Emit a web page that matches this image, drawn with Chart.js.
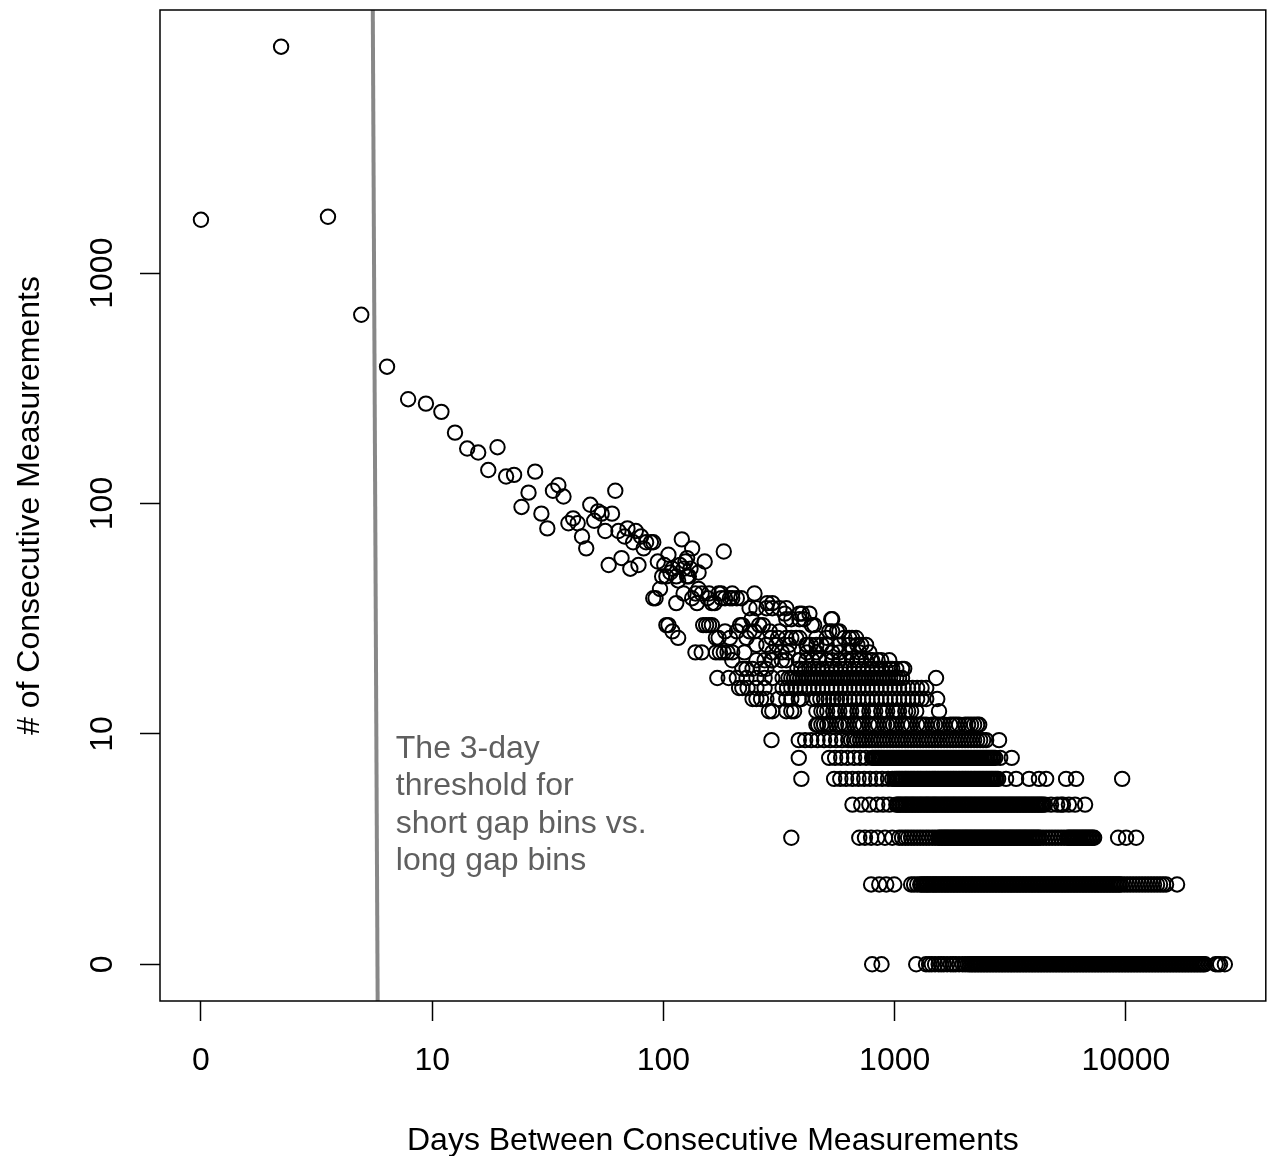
<!DOCTYPE html>
<html>
<head>
<meta charset="utf-8">
<script src="https://cdn.jsdelivr.net/npm/chart.js@4"></script>
<style>
  html, body { margin: 0; padding: 0; background: #fff; }
  #wrap { width: 1275px; height: 1156px; position: relative; }
</style>
</head>
<body>
<div id="wrap"><canvas id="gapChart"></canvas></div>
<script>
// Days between consecutive measurements, grouped by how many pairs had that gap.
// Low counts come out as horizontal rows, one array per count (dense stretches are nearly every day).
const count1Days = [332, 360, 486, 529, 543, 556, 572, 590, 603, 617, 635, 655, 669, 684, 704, 726, 742, 759,
  771, 781, 791, 802, 812, 823, 834, 845, 856, 867, 878, 890, 901, 913, 925, 937, 949, 962, 974, 987, 1000, 1013, 1026, 1039, 1053, 1067, 1081, 1095, 1109, 1123, 1138, 1153, 1168, 1183, 1198, 1214, 1230, 1246, 1262, 1279, 1296, 1313, 1330, 1347, 1365, 1383, 1401, 1419, 1437, 1456, 1475, 1495, 1514, 1534, 1554, 1574, 1595, 1616, 1637, 1658, 1680, 1702, 1724, 1746, 1769, 1792, 1815, 1839, 1863, 1888, 1912, 1937, 1962, 1988, 2014, 2041, 2067, 2094, 2121, 2149, 2177, 2206, 2235, 2264, 2293, 2323, 2353, 2384, 2415, 2447, 2479, 2511, 2544, 2577, 2611, 2645, 2679, 2714, 2750, 2786, 2822, 2859, 2896, 2934, 2972, 3011, 3050, 3090, 3130, 3171, 3213, 3255, 3297, 3340, 3384, 3428, 3473, 3518, 3564, 3610, 3657, 3705, 3753, 3802, 3852, 3902, 3953, 4005, 4057, 4110, 4164, 4218, 4273, 4329, 4385, 4442, 4500, 4559, 4619, 4679, 4740, 4802, 4865, 4928, 4992, 5057, 5123, 5190, 5258, 5327, 5397, 5467, 5538, 5610, 5683, 5757, 5832, 5908,
  6480, 6610, 6731, 7013];
const count2Days = [329, 353, 375, 402, 465, 477, 490, 503,
  509, 516, 523, 530, 536, 543, 550, 558, 565, 572, 579, 587, 595, 603, 611, 619, 627, 635, 643, 652, 660, 669, 677, 686, 695, 704, 713, 723, 732, 742, 751, 761, 771, 781, 791, 802, 812, 823, 834, 845, 856, 867, 878, 890, 901, 913, 925, 937, 949, 962, 974, 987, 1000, 1013, 1026, 1039, 1053, 1067, 1081, 1095, 1109, 1123, 1138, 1153, 1168, 1183, 1198, 1214, 1230, 1246, 1262, 1279, 1296, 1313, 1330, 1347, 1365, 1383, 1401, 1419, 1437, 1456, 1475, 1495, 1514, 1534, 1554, 1574, 1595, 1616, 1637, 1658, 1680, 1702, 1724, 1746, 1769, 1792, 1815, 1839, 1863, 1888, 1912, 1937, 1962, 1988, 2014, 2041, 2067, 2094, 2121, 2149, 2177, 2206, 2235, 2264, 2293, 2323, 2353, 2384, 2415, 2447, 2479, 2511, 2544, 2577, 2611, 2645, 2679, 2714, 2750, 2786, 2822, 2859,
  2934, 3011, 3090, 3171, 3255, 3340, 3428, 3518, 3610, 3705, 3802, 3902, 4005, 4110, 4218, 4640];
const count3Days = [165, 297, 312, 329, 347, 371, 395, 419,
  430, 442, 453, 465, 477, 490, 503, 516, 530, 543, 558, 572, 587,
  595, 603, 611, 619, 627, 635, 643, 652, 660, 669, 677, 686, 695, 704, 713, 723, 732, 742, 751, 761, 771, 781, 791, 802, 812, 823, 834, 845, 856, 867, 878, 890, 901, 913, 925, 937, 949, 962, 974, 987, 1000, 1013, 1026, 1039, 1053, 1067, 1081, 1095, 1109, 1123, 1138, 1153, 1168, 1183, 1198, 1214, 1230, 1246, 1262, 1279, 1296, 1313, 1330, 1347, 1365, 1383, 1401, 1419,
  1456, 1495, 1534, 1574, 1616, 1658, 1702, 1746, 1792,
  1815, 1839, 1863, 1888, 1912, 1937, 1962, 1988, 2014, 2041, 2067, 2094, 2121, 2149, 2177, 2206, 2235, 2264,
  2786, 2985, 3255];
const count4Days = [280, 302, 324, 347, 365, 385,
  409, 414, 419, 424, 430, 436, 442, 447, 453, 459, 465, 471, 477, 483, 490, 496, 503, 509, 516, 523, 530, 536, 543, 550, 558, 565, 572, 579, 587, 595, 603, 611, 619, 627, 635, 643, 652, 660, 669, 677, 686, 695, 704, 713, 723, 732, 742, 751, 761, 771, 781, 791, 802, 812, 823, 834, 845, 856, 867, 878, 890, 901, 913, 925, 937, 949, 962, 974, 987, 1000, 1013, 1026, 1039, 1053, 1067, 1081, 1095, 1109, 1123, 1138, 1153, 1168, 1183, 1198, 1214, 1230, 1246, 1262, 1279, 1296, 1313, 1330, 1347, 1365, 1383, 1401, 1419, 1437, 1456, 1480,
  1560, 1645, 1700, 1730, 1820, 1920, 2094];
const count5Days = [180, 239, 252, 265, 280, 295, 310, 326, 344, 362, 381,
  395, 403, 409, 414, 419, 424, 430, 436, 442, 447, 453, 459, 465, 471, 477, 483, 490, 496, 503, 509, 516, 523, 530, 536, 543, 550, 558, 565, 572, 579, 587, 595, 603, 611, 619, 627, 635, 643, 652, 660, 669, 677, 686, 695, 704, 713, 723, 732, 742, 751, 761, 771, 781, 791, 802, 812, 823, 834, 845, 856, 867, 878, 890, 901, 913, 925, 937, 949, 962, 974, 987,
  1057, 1153, 1290, 1405, 1495, 1777, 1937, 2885];
const count6Days = [176, 229, 241, 254, 268, 284, 299, 315,
  332, 336, 341, 345, 350, 354, 359, 363, 368, 373, 378, 383, 388, 393, 398, 403, 409, 414, 419, 424, 430, 436, 442, 447, 453, 459, 465, 471, 477, 483, 490, 496, 503, 509, 516, 523, 530, 536, 543, 550, 558, 565, 572, 579, 587, 595, 603, 611, 619, 627, 635, 643, 652, 660, 669, 677, 686, 695, 704, 713, 723, 732, 742, 751, 761, 771, 781, 791, 802, 812, 823, 834, 845, 856, 867, 878, 890, 901, 913, 925, 937, 949, 962,
  1005, 1110];
const count7Days = [139, 176, 186, 196, 207, 219, 231, 243, 256,
  270, 277, 284, 292, 299, 307, 315, 324, 332, 341, 350, 359, 368, 378, 388, 398, 409, 419, 430, 442, 453, 465, 477, 490, 503, 516, 530, 543, 558, 572, 587, 603, 619, 635, 652, 669, 686, 704, 723, 742, 761, 781, 802, 823, 845, 867, 890,
  995];
const count8Days = [205, 208, 214, 219, 225, 231, 243, 250, 256, 263, 270, 284, 292, 299, 307, 324, 332, 341, 350, 368, 378, 388, 398, 409, 430, 442, 453, 465, 490, 503, 516, 530, 558, 572, 587, 603, 619, 652, 669, 686, 704, 742, 761, 781, 802, 823, 838];
const count9Days = [136, 140, 158, 165, 169, 205, 214, 219, 225, 237, 243, 250, 263, 270, 277, 292, 299, 307, 324, 332, 341, 359, 368, 378, 398, 409, 419, 442, 453, 465, 486, 592];
const count10Days = [118, 122, 127, 133, 147, 158, 165, 176, 180, 198, 205, 212, 219, 228, 237, 245, 254, 263, 273, 284, 295, 307, 319, 332, 345, 359, 373, 388, 403, 419, 436, 453, 471, 490, 509, 530, 583];
const count11Days = [105, 108, 113, 122, 131, 153, 159, 165, 171, 178, 185, 193, 200, 208, 216, 225, 234, 243, 253, 263, 273, 284, 295, 307, 319, 332, 345, 359, 373, 388, 403, 419, 436, 453, 471, 490, 509, 530];
const count12Days = [87, 96, 103, 112, 122, 131, 140, 153, 161, 165, 169, 174, 178, 183, 188, 193, 198, 203, 208, 214, 219, 225, 231, 237, 243, 250, 256, 263, 270, 277, 284, 292, 299, 307, 315, 324, 332, 341, 350, 359, 368, 378, 388, 398, 409, 419, 430, 577];
const count13Days = [108, 112, 118, 127, 133, 174, 180, 186, 193, 200, 208, 216, 225, 234, 243, 253, 263, 273, 284, 295, 307, 319, 332, 345, 359, 373, 388, 395, 409, 430, 438];
const count14Days = [99, 122, 131, 139, 140, 152, 158, 176, 177, 188, 198, 210, 224, 235, 250, 265, 279, 292, 302, 315, 329, 332, 348, 359, 385];
const count15Days = [72, 76, 86, 89, 92, 95, 99, 110, 140, 152, 160, 189, 205, 235, 250, 272, 297, 324];

const rowCounts = [1, 2, 3, 4, 5, 6, 7, 8, 9, 10, 11, 12, 13, 14, 15];
const rowDays = [count1Days, count2Days, count3Days, count4Days, count5Days, count6Days, count7Days,
  count8Days, count9Days, count10Days, count11Days, count12Days, count13Days, count14Days, count15Days];

// higher counts: each count with the gap lengths (days) that reached it
const upperCounts = [16, 17, 18, 19, 20, 21, 22, 23, 24, 25, 26, 28, 29, 30, 31, 32, 33, 34, 35, 36, 37, 39, 40, 41, 43, 44, 46, 47, 48, 50, 51, 53, 54, 58, 60, 61, 64, 69, 70, 72, 73, 85, 88, 89, 101, 121, 130, 135, 179, 281, 641, 658, 2880];
const upperDays = [
  [122, 133, 145, 162, 188, 189, 195, 205, 214, 224, 250, 272, 292, 302, 315],
  [62, 86, 88, 97, 112, 139, 147, 158, 165, 172, 177, 205, 224, 261, 272, 279, 289],
  [59, 93, 103, 115, 120, 137, 149, 229, 235, 245, 250],
  [56, 57, 77, 79, 81, 83, 106, 108, 125, 129, 197, 201],
  [117, 158, 165, 177, 184, 233, 235],
  [156, 177, 181, 193],
  [115, 122, 133, 140, 149, 158],
  [61, 73, 83, 85, 134, 140],
  [50, 51, 70, 80, 90, 93, 97, 99, 103, 107],
  [65, 72, 76, 81, 88, 90, 99, 120],
  [53, 74],
  [62],
  [54, 56, 61, 67, 68],
  [58, 74],
  [41, 59, 65, 69],
  [34, 44, 55, 63],
  [52, 66, 78],
  [38, 67],
  [57],
  [92],
  [28, 46, 70],
  [42, 47, 49, 50],
  [64],
  [27, 39, 45],
  [33, 37, 43],
  [20, 40],
  [24, 26],
  [30],
  [25],
  [19, 32, 35],
  [31],
  [16], [29], [23], [17], [21, 36], [22], [14], [15], [18], [12], [11], [10], [13],
  [9], [8], [7], [6], [5], [4], [1], [3], [2]
];

// axis ticks sit at e^0, e^2, e^4 ... (natural log axes) with these printed labels
const tickLogPositions = [0, 2, 4, 6, 8];
const xTickLabels = ['0', '10', '100', '1000', '10000'];
const yTickLabels = ['0', '10', '100', '1000'];

// grey threshold line (slightly slanted in the original): x at top and bottom of the box
const thresholdDays = [4.42, 4.61];

const xTitle = 'Days Between Consecutive Measurements';
const yTitle = '# of Consecutive Measurements';
const noteLines = ['The 3-day', 'threshold for', 'short gap bins vs.', 'long gap bins'];

const FONT = '"Liberation Sans", Arial, Helvetica, sans-serif';

const points = [];
rowCounts.forEach((c, i) => rowDays[i].forEach(d => points.push({ x: d, y: c })));
upperCounts.forEach((c, i) => upperDays[i].forEach(d => points.push({ x: d, y: c })));

// R style: 4% extra range on each side (in log space)
const xLog = Math.log(Math.max(...points.map(p => p.x)));
const yLog = Math.log(Math.max(...points.map(p => p.y)));
const xMin = Math.exp(-0.04 * xLog), xMax = Math.exp(1.04 * xLog);
const yMin = Math.exp(-0.04 * yLog), yMax = Math.exp(1.04 * yLog);

const frame = {
  id: 'frame',
  afterDatasetsDraw(chart) {
    const { ctx, chartArea: a, scales: { x, y } } = chart;
    ctx.save();
    ctx.strokeStyle = '#000';
    ctx.lineWidth = 1.5;
    ctx.strokeRect(a.left, a.top, a.right - a.left, a.bottom - a.top);

    ctx.fillStyle = '#000';
    ctx.font = '32px ' + FONT;
    ctx.textAlign = 'center';
    ctx.textBaseline = 'middle';
    y.ticks.forEach((t, i) => {
      ctx.save();
      ctx.translate(a.left - 57, y.getPixelForValue(t.value));
      ctx.rotate(-Math.PI / 2);
      ctx.fillText(yTickLabels[i], 0, 0);
      ctx.restore();
    });

    ctx.textBaseline = 'alphabetic';
    ctx.fillText(xTitle, (a.left + a.right) / 2, 1150);
    ctx.save();
    ctx.translate(39, (a.top + a.bottom) / 2);
    ctx.rotate(-Math.PI / 2);
    ctx.fillText(yTitle, 0, 0);
    ctx.restore();

    // annotation next to the threshold line
    ctx.fillStyle = '#5f5f5f';
    ctx.textAlign = 'left';
    const tx = x.getPixelForValue(thresholdDays[0]) + 23;
    const ty = y.getPixelForValue(Math.exp(2)) + 24;
    noteLines.forEach((s, i) => ctx.fillText(s, tx, ty + i * 37.5));
    ctx.restore();
  }
};

new Chart(document.getElementById('gapChart'), {
  type: 'scatter',
  data: {
    datasets: [
      {
        type: 'line',
        data: [{ x: thresholdDays[0], y: yMax }, { x: thresholdDays[1], y: yMin }],
        borderColor: '#888888',
        borderWidth: 4,
        pointRadius: 0,
        order: 2
      },
      {
        data: points,
        pointStyle: 'circle',
        pointRadius: 7.2,
        pointBorderWidth: 2,
        pointBorderColor: '#000',
        pointBackgroundColor: 'rgba(0,0,0,0)',
        order: 1
      }
    ]
  },
  options: {
    responsive: true,
    maintainAspectRatio: false,
    animation: false,
    events: [],
    layout: { padding: { top: 10, right: 8, left: 0, bottom: 0 } },
    plugins: { legend: { display: false }, tooltip: { enabled: false } },
    scales: {
      x: {
        type: 'logarithmic',
        position: 'bottom',
        bounds: 'data',
        min: xMin,
        max: xMax,
        afterBuildTicks: s => { s.ticks = tickLogPositions.map(k => ({ value: Math.exp(k) })); },
        afterFit: s => { s.height = 155; },
        ticks: {
          autoSkip: false, minRotation: 0, maxRotation: 0, padding: 21, color: '#000',
          font: { family: FONT, size: 32 },
          callback: (v, i) => xTickLabels[i]
        },
        grid: { drawOnChartArea: false, drawTicks: true, tickLength: 20, tickWidth: 1.5, tickColor: '#000' },
        border: { display: false }
      },
      y: {
        type: 'logarithmic',
        position: 'left',
        bounds: 'data',
        min: yMin,
        max: yMax,
        afterBuildTicks: s => { s.ticks = tickLogPositions.slice(0, yTickLabels.length).map(k => ({ value: Math.exp(k) })); },
        afterFit: s => { s.width = 160; },
        ticks: { display: false },
        grid: { drawOnChartArea: false, drawTicks: true, tickLength: 20, tickWidth: 1.5, tickColor: '#000' },
        border: { display: false }
      }
    }
  },
  plugins: [frame]
});
</script>
</body>
</html>
